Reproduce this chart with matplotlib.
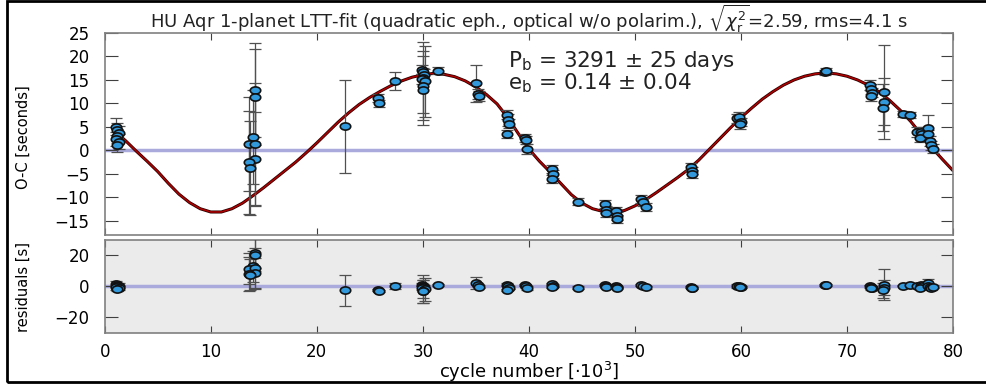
import numpy as np
import matplotlib
matplotlib.use("Agg")
from matplotlib import pyplot as plt
from matplotlib.path import Path
from matplotlib.patches import Rectangle

# observed minus calculated timings, cycle number in units of 1000
cycle = [1.1, 1.2, 1.3, 1.2, 1.1, 1.3, 1.2,
         14.2, 14.2, 14.0, 13.6, 14.2, 14.2, 13.6, 13.7,
         22.7,
         25.8, 25.9,
         27.4,
         29.9, 30.0, 30.1, 30.0, 29.9, 30.2, 30.0, 30.0,
         31.4,
         35.0, 35.2, 35.3,
         37.9, 38.0, 38.1, 37.9,
         39.6, 39.7, 39.8,
         42.2, 42.3, 42.2,
         44.6,
         47.2, 47.3, 47.3, 48.2, 48.3, 48.3,
         50.6, 50.8, 51.0,
         55.3, 55.4, 55.4,
         59.6, 59.8, 60.0, 59.9,
         67.9, 68.0,
         72.2, 72.3, 72.4, 72.3,
         73.5, 73.5, 73.4,
         75.3, 75.9,
         76.6, 77.0, 77.1, 76.9, 77.6, 77.6, 77.8, 77.9, 78.1]
oc = [5.0, 4.3, 3.7, 3.1, 2.5, 1.9, 1.2,
      12.9, 11.3, 2.9, 1.4, 1.4, -1.8, -2.5, -3.7,
      5.1,
      11.2, 10.0,
      14.8,
      17.2, 16.6, 16.1, 15.5, 15.2, 14.7, 13.8, 12.8,
      17.0,
      14.3, 12.0, 11.6,
      7.6, 6.5, 5.7, 3.5,
      2.6, 2.2, 0.3,
      -3.9, -5.0, -6.1,
      -10.9,
      -11.4, -12.6, -13.4, -12.9, -13.9, -14.6,
      -10.3, -11.0, -12.0,
      -3.5, -4.3, -5.0,
      6.8, 7.2, 6.0, 5.6,
      16.6, 17.0,
      13.9, 13.1, 12.3, 11.6,
      12.5, 10.4, 9.1,
      7.7, 7.6,
      3.9, 3.9, 3.4, 2.7, 4.8, 3.4, 2.0, 1.1, 0.4]
oc_err = [1.8, 1.5, 1.5, 1.5, 1.5, 1.5, 1.5,
          10.0, 10.2, 10.0, 10.0, 13.0, 10.0, 11.0, 10.0,
          10.0,
          0.8, 0.8,
          2.0,
          1.0, 1.0, 1.2, 7.6, 1.0, 7.5, 7.4, 7.4,
          0.8,
          3.9, 1.0, 1.0,
          1.0, 1.2, 1.0, 0.8,
          0.9, 0.9, 1.0,
          0.8, 0.8, 0.8,
          0.8,
          0.8, 0.8, 0.8, 0.8, 0.8, 0.8,
          0.8, 0.8, 0.8,
          0.8, 0.8, 0.8,
          1.0, 0.9, 0.9, 1.1,
          0.6, 0.6,
          1.0, 1.0, 1.0, 1.0,
          10.0, 5.0, 5.0,
          0.6, 0.6,
          1.0, 1.0, 1.0, 1.0, 2.7, 1.0, 1.0, 1.0, 1.0]
resid = [1.6, 1.0, 0.5, 0.0, -0.5, -1.0, -1.6,
         21.7, 20.5, 13.0, 11.5, 12.0, 8.5, 7.8, 7.5,
         -2.5,
         -2.2, -2.8,
         0.3,
         1.0, 0.4, -0.2, -0.1, -1.0, -1.8, -3.2, -3.2,
         1.0,
         2.2, 0.8, -0.2,
         1.2, 0.0, -0.9, -2.4,
         1.0, 0.2, -1.0,
         1.5, 0.5, -0.5,
         -0.8,
         1.0, 0.3, -0.5, 0.3, -0.3, -1.0,
         1.0, 0.3, -0.6,
         -0.3, -0.7, -1.0,
         0.3, 0.0, -0.4, -0.6,
         0.8, 1.2,
         0.2, -0.4, -1.0, -1.2,
         1.2, -0.8, -2.5,
         0.6, 1.2,
         0.5, 1.0, 0.2, -0.8, 2.0, 0.3, -0.5, -1.0, -0.3]

# LTT model curve
fit_cycle = list(range(1, 81))
fit_oc = [4.0, 2.0, -0.2, -2.3, -4.5, -7.0, -9.3, -11.1, -12.4, -13.1,
          -13.1, -12.4, -11.2, -9.6, -7.9, -6.1, -4.3, -2.5, -0.5, 1.6,
          3.8, 6.0, 8.0, 9.8, 11.3, 12.6, 13.8, 14.8, 15.6, 16.1,
          16.4, 16.2, 15.7, 14.8, 13.5, 11.9, 9.9, 7.0, 3.6, 0.3,
          -2.3, -4.6, -7.0, -9.4, -11.2, -12.4, -13.0, -13.2, -12.8, -11.8,
          -10.5, -9.0, -7.4, -5.8, -4.1, -2.1, 0.2, 2.5, 4.8, 7.0,
          9.0, 10.9, 12.5, 13.9, 15.0, 15.8, 16.3, 16.5, 16.3, 15.8,
          15.0, 13.9, 12.5, 10.7, 8.6, 6.2, 3.4, 0.6, -1.9, -4.3]

plt.rcParams['font.family'] = ['DejaVu Sans']
plt.rcParams['mathtext.fontset'] = 'dejavusans'

# elliptical marker (the original is stretched horizontally)
circ = Path.unit_circle()
ell = Path(circ.vertices * np.array([1.45, 1.0]), circ.codes)

fig = plt.figure(figsize=(9.87, 3.85), dpi=100)
ax1 = fig.add_axes([0.1061, 0.3896, 0.8595, 0.5247])
ax2 = fig.add_axes([0.1061, 0.1351, 0.8595, 0.2416])

spine_col = '#808080'
for ax in (ax1, ax2):
    ax.axhline(0, color='#aaaadd', lw=2.5, zorder=1)
    for s in ax.spines.values():
        s.set_color(spine_col)
        s.set_linewidth(1.2)
    ax.set_xlim(0, 80)
    ax.set_xticks(range(0, 81, 10))
    ax.tick_params(axis='both', direction='in', top=True, right=True,
                   color='#404040', labelsize=12)
    ax.tick_params(axis='y', length=9, pad=11)
    ax.tick_params(axis='x', length=4.7, pad=7)

ax1.plot(fit_cycle, fit_oc, color='#2a0000', lw=2.2, zorder=2, solid_capstyle='round')
ax1.plot(fit_cycle, fit_oc, color='#b00000', lw=1.1, zorder=2.1, solid_capstyle='round')
ax1.errorbar(cycle, oc, yerr=oc_err, fmt='none', ecolor='#505050',
             elinewidth=0.9, capsize=4.5, capthick=0.9, zorder=3)
ax1.plot(cycle, oc, ls='none', marker=ell, ms=7.5, mfc='#3399dd',
         mec='#111111', mew=1.2, zorder=4)
ax1.set_ylim(-18, 25)
ax1.set_yticks(range(-15, 26, 5))
ax1.tick_params(axis='x', labelbottom=False)

ax1.text(38.0, 17.8, r'P$_\mathrm{b}$ = 3291 $\pm$ 25 days', fontsize=15.5,
         ha='left', va='baseline', color='#222222')
ax1.text(38.0, 13.0, r'e$_\mathrm{b}$ = 0.14 $\pm$ 0.04', fontsize=15.5,
         ha='left', va='baseline', color='#222222')

ax2.set_facecolor('#ebebeb')
ax2.errorbar(cycle, resid, yerr=oc_err, fmt='none', ecolor='#505050',
             elinewidth=0.9, capsize=4.5, capthick=0.9, zorder=3)
ax2.plot(cycle, resid, ls='none', marker=ell, ms=7.5, mfc='#3399dd',
         mec='#111111', mew=1.2, zorder=4)
ax2.set_ylim(-30, 30)
ax2.set_yticks([-20, 0, 20])

fig.text(0.536, 0.952,
         r'HU Aqr 1-planet LTT-fit (quadratic eph., optical w/o polarim.), '
         r'$\sqrt{\chi^2_\mathrm{r}}$=2.59, rms=4.1 s',
         ha='center', va='center', fontsize=13, color='#222222')
fig.text(0.024, 0.644, 'O-C [seconds]', rotation=90, ha='center',
         va='center', fontsize=10.5)
fig.text(0.024, 0.2545, 'residuals [s]', rotation=90, ha='center',
         va='center', fontsize=10.5)
fig.text(0.536, 0.034, r'cycle number [$\cdot$10$^3$]', ha='center',
         va='center', fontsize=13)

fig.add_artist(Rectangle((0.0071, 0.0078), 1.2, 0.99, transform=fig.transFigure,
                         fill=False, ec='black', lw=2))

fig.savefig('out.png', dpi=100)
